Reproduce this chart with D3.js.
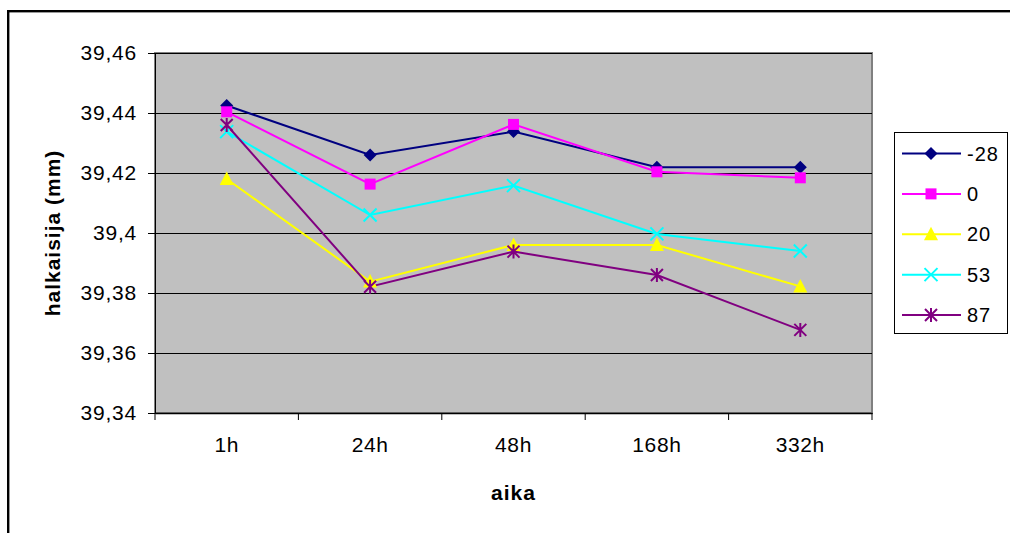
<!DOCTYPE html>
<html><head><meta charset="utf-8">
<script src="https://cdn.jsdelivr.net/npm/d3@7"></script>
<style>
html,body{margin:0;padding:0;background:#fff;}
svg{display:block;font-family:"Liberation Sans",Arial,sans-serif;}
</style></head>
<body>
<svg id="chart" width="1010" height="533"></svg>
<script>
const categories = ["1h","24h","48h","168h","332h"];
const seriesNames = ["-28","0","20","53","87"];
const valuesM28 = [39.4425, 39.4260, 39.4338, 39.4219, 39.4219];
const values0   = [39.4404, 39.4163, 39.4362, 39.4204, 39.4184];
const values20  = [39.4180, 39.3838, 39.3960, 39.3960, 39.3822];
const values53  = [39.4338, 39.4060, 39.4158, 39.3997, 39.3940];
const values87  = [39.4360, 39.3821, 39.3938, 39.3860, 39.3677];
const yTicks = [39.34, 39.36, 39.38, 39.40, 39.42, 39.44, 39.46];
const yTickLabels = ["39,34","39,36","39,38","39,4","39,42","39,44","39,46"];

const colors = ["#000080","#FF00FF","#FFFF00","#00FFFF","#800080"];
const markers = ["diamond","square","triangle","x","star"];
const series = [valuesM28, values0, values20, values53, values87].map((v,i)=>({name:seriesNames[i], values:v, color:colors[i], marker:markers[i]}));

const svg = d3.select("#chart");
const L = 155, R = 872, T = 53, B = 413;

// outer border
svg.append("rect").attr("x",8.2).attr("y",11.2).attr("width",1100).attr("height",600)
  .attr("fill","none").attr("stroke","#000").attr("stroke-width",2.4);

const x = d3.scaleBand().domain(categories).range([L,R]);
const y = d3.scaleLinear().domain([39.34,39.46]).range([B,T]);

// plot area
svg.append("rect").attr("x",L).attr("y",T).attr("width",R-L).attr("height",B-T)
  .attr("fill","#C0C0C0").attr("stroke","#808080").attr("stroke-width",2);

// gridlines
svg.append("g").selectAll("line").data(yTicks.slice(1)).join("line")
  .attr("x1",L).attr("x2",R).attr("y1",d=>Math.round(y(d))+0.5).attr("y2",d=>Math.round(y(d))+0.5)
  .attr("stroke","#000").attr("stroke-width",1);

// y axis
const yAxis = d3.axisLeft(y).tickValues(yTicks).tickSize(7).tickPadding(11)
  .tickFormat((d,i)=>yTickLabels[i]);
const gy = svg.append("g").attr("transform",`translate(${L},0)`).call(yAxis);
gy.select(".domain").attr("stroke","#000").attr("stroke-width",1);
gy.selectAll(".tick line").attr("stroke","#000");
gy.selectAll("text").attr("font-size",21).attr("letter-spacing","0.8px").attr("fill","#000")
  .attr("font-family","Liberation Sans, Arial, sans-serif");

// x axis with ticks at band boundaries
const xAxis = d3.axisBottom(x).tickSize(0).tickPadding(24);
const gx = svg.append("g").attr("transform",`translate(0,${B})`).call(xAxis);
gx.select(".domain").attr("stroke","#000").attr("stroke-width",1.5);
gx.selectAll("text").attr("font-size",21).attr("letter-spacing","0.6px").attr("fill","#000")
  .attr("font-family","Liberation Sans, Arial, sans-serif");
const bounds = categories.map(c=>x(c)).concat([x(categories[categories.length-1])+x.bandwidth()]);
gx.append("g").selectAll("line").data(bounds).join("line")
  .attr("x1",d=>d).attr("x2",d=>d).attr("y1",0).attr("y2",7).attr("stroke","#000");

// axis titles
svg.append("text").attr("x",(L+R)/2).attr("y",500).attr("text-anchor","middle")
  .attr("font-size",21).attr("font-weight","bold").attr("letter-spacing","1px").text("aika");
svg.append("text").attr("transform",`translate(60,${(T+B)/2}) rotate(-90)`).attr("text-anchor","middle")
  .attr("font-size",21).attr("font-weight","bold").attr("letter-spacing","1px").text("halkaisija (mm)");

// marker drawing
function drawMarker(g, type, color, cx, cy){
  if(type==="diamond"){
    g.append("path").attr("d",`M${cx},${cy-6.5}L${cx+6.5},${cy}L${cx},${cy+6.5}L${cx-6.5},${cy}Z`).attr("fill",color);
  } else if(type==="square"){
    g.append("rect").attr("x",cx-5.5).attr("y",cy-5.5).attr("width",11).attr("height",11).attr("fill",color);
  } else if(type==="triangle"){
    g.append("path").attr("d",`M${cx},${cy-7.5}L${cx+7},${cy+6}L${cx-7},${cy+6}Z`).attr("fill",color);
  } else if(type==="x"){
    g.append("path").attr("d",`M${cx-6.5},${cy-6.5}L${cx+6.5},${cy+6.5}M${cx+6.5},${cy-6.5}L${cx-6.5},${cy+6.5}`)
      .attr("stroke",color).attr("stroke-width",2).attr("fill","none");
  } else if(type==="star"){
    g.append("path").attr("d",`M${cx-6},${cy-6}L${cx+6},${cy+6}M${cx+6},${cy-6}L${cx-6},${cy+6}M${cx},${cy-7}L${cx},${cy+7}`)
      .attr("stroke",color).attr("stroke-width",2).attr("fill","none");
  }
}

const line = d3.line().x((d,i)=>x(categories[i])+x.bandwidth()/2).y(d=>y(d));
const gs = svg.append("g");
series.forEach(s=>{
  gs.append("path").datum(s.values).attr("d",line).attr("fill","none")
    .attr("stroke",s.color).attr("stroke-width",2);
});
series.forEach(s=>{
  s.values.forEach((v,i)=>drawMarker(gs, s.marker, s.color, x(categories[i])+x.bandwidth()/2, y(v)));
});

// legend
const lg = svg.append("g");
lg.append("rect").attr("x",894.5).attr("y",132.5).attr("width",113).attr("height",201)
  .attr("fill","#fff").attr("stroke","#000").attr("stroke-width",1);
const ly = d3.scalePoint().domain(seriesNames).range([153.5,315]);
series.forEach(s=>{
  const yy = ly(s.name);
  lg.append("line").attr("x1",902).attr("x2",961).attr("y1",yy).attr("y2",yy)
    .attr("stroke",s.color).attr("stroke-width",2);
  drawMarker(lg, s.marker, s.color, 931, yy);
  lg.append("text").attr("x",967).attr("y",yy).attr("dy","0.36em").attr("font-size",20)
    .attr("letter-spacing","1px").text(s.name);
});
</script>
</body></html>
